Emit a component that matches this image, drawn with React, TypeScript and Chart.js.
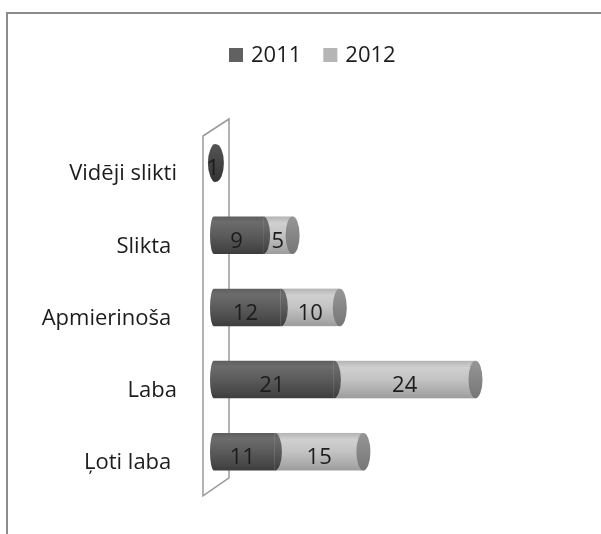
import { useEffect, useRef } from "react";
import { Chart, registerables } from "chart.js";

Chart.register(...registerables);

const categories = ["Vidēji slikti", "Slikta ", "Apmierinoša ", "Laba", "Ļoti laba "];
const seriesLabels = ["2011", "2012"];
const values2011 = [1, 9, 12, 21, 11];
const values2012 = [0, 5, 10, 24, 15];

const FONT = "'Open Sans', 'Noto Sans', sans-serif";
const legendColors = ["#616161", "#b5b5b5"];

function bodyGradient(ctx: CanvasRenderingContext2D, top: number, bottom: number, dark: boolean) {
  const g = ctx.createLinearGradient(0, top, 0, bottom);
  if (dark) {
    g.addColorStop(0, "#5e5e5e");
    g.addColorStop(0.15, "#6c6c6c");
    g.addColorStop(0.5, "#5b5b5b");
    g.addColorStop(0.85, "#474747");
    g.addColorStop(1, "#3c3c3c");
  } else {
    g.addColorStop(0, "#b4b4b4");
    g.addColorStop(0.18, "#d0d0d0");
    g.addColorStop(0.5, "#c3c3c3");
    g.addColorStop(0.85, "#a9a9a9");
    g.addColorStop(1, "#9c9c9c");
  }
  return g;
}

function capGradient(ctx: CanvasRenderingContext2D, top: number, bottom: number, dark: boolean) {
  const g = ctx.createLinearGradient(0, top, 0, bottom);
  if (dark) {
    g.addColorStop(0, "#555555");
    g.addColorStop(1, "#333333");
  } else {
    g.addColorStop(0, "#969696");
    g.addColorStop(1, "#767676");
  }
  return g;
}

const framePlugin = {
  id: "frame",
  beforeDraw(chart: any) {
    const ctx = chart.ctx as CanvasRenderingContext2D;
    ctx.save();
    ctx.fillStyle = "#ffffff";
    ctx.fillRect(0, 0, chart.width, chart.height);
    ctx.strokeStyle = "#8c8c8c";
    ctx.lineWidth = 2;
    ctx.beginPath();
    ctx.moveTo(7, chart.height);
    ctx.lineTo(7, 13);
    ctx.lineTo(chart.width, 13);
    ctx.stroke();
    ctx.restore();
  },
  beforeDatasetsDraw(chart: any) {
    const ctx = chart.ctx as CanvasRenderingContext2D;
    const a = chart.chartArea;
    const lx = a.left - 7;
    const rx = a.left + 19;
    ctx.save();
    ctx.strokeStyle = "#9a9a9a";
    ctx.lineWidth = 1.5;
    ctx.fillStyle = "#ffffff";
    ctx.beginPath();
    ctx.moveTo(lx, a.top + 9);
    ctx.lineTo(rx, a.top - 8);
    ctx.lineTo(rx, a.bottom - 10);
    ctx.lineTo(lx, a.bottom + 8);
    ctx.closePath();
    ctx.fill();
    ctx.stroke();
    ctx.restore();
  },
  afterDatasetsDraw(chart: any) {
    const ctx = chart.ctx as CanvasRenderingContext2D;
    const m0 = chart.getDatasetMeta(0).data;
    const m1 = chart.getDatasetMeta(1).data;
    const v0 = chart.data.datasets[0].data as number[];
    const v1 = chart.data.datasets[1].data as number[];
    const crx = 7;
    ctx.save();
    for (let j = 0; j < m0.length; j++) {
      const b0 = m0[j].getProps(["x", "y", "base", "height"], true);
      const b1 = m1[j].getProps(["x", "y", "base", "height"], true);
      const h = b0.height;
      const top = b0.y - h / 2;
      const bot = b0.y + h / 2;
      const start = b0.base;
      const lr = 4;
      if (v1[j] > 0) {
        ctx.fillStyle = bodyGradient(ctx, top, bot, false);
        ctx.fillRect(b1.base, top, b1.x - b1.base, h);
        ctx.fillStyle = capGradient(ctx, top, bot, false);
        ctx.beginPath();
        ctx.ellipse(b1.x, b1.y, crx, h / 2, 0, 0, Math.PI * 2);
        ctx.fill();
      }
      if (v0[j] > 0) {
        ctx.fillStyle = bodyGradient(ctx, top, bot, true);
        ctx.beginPath();
        ctx.moveTo(start + lr, top);
        ctx.lineTo(b0.x, top);
        ctx.lineTo(b0.x, bot);
        ctx.lineTo(start + lr, bot);
        ctx.ellipse(start + lr, b0.y, lr, h / 2, 0, Math.PI / 2, Math.PI * 1.5);
        ctx.closePath();
        ctx.fill();
        if (v1[j] > 0) {
          ctx.beginPath();
          ctx.ellipse(b0.x, b0.y, crx, h / 2, 0, -Math.PI / 2, Math.PI / 2);
          ctx.fill();
        } else {
          ctx.fillStyle = capGradient(ctx, top, bot, true);
          ctx.beginPath();
          ctx.ellipse(b0.x, b0.y, crx + 1, h / 2, 0, 0, Math.PI * 2);
          ctx.fill();
        }
      }
      ctx.fillStyle = "#1c1c1c";
      ctx.font = `22px ${FONT}`;
      ctx.textAlign = "center";
      ctx.textBaseline = "middle";
      if (v0[j] > 0) ctx.fillText(String(v0[j]), (b0.base + b0.x) / 2, b0.y + 6);
      if (v1[j] > 0) ctx.fillText(String(v1[j]), (b1.base + b1.x) / 2, b1.y + 6);
    }
    ctx.restore();
  },
  afterDraw(chart: any) {
    const ctx = chart.ctx as CanvasRenderingContext2D;
    ctx.save();
    ctx.font = `22px ${FONT}`;
    ctx.textBaseline = "alphabetic";
    ctx.textAlign = "left";
    let x = 229;
    chart.data.datasets.forEach((ds: any, i: number) => {
      ctx.fillStyle = legendColors[i];
      ctx.fillRect(x, 48, 14, 14);
      x += 22;
      ctx.fillStyle = "#1c1c1c";
      ctx.fillText(ds.label, x, 62);
      x += ctx.measureText(ds.label).width + 22;
    });
    ctx.restore();
  },
};

export default function App() {
  const ref = useRef<HTMLCanvasElement | null>(null);
  useEffect(() => {
    if (!ref.current) return;
    const chart = new Chart(ref.current, {
      type: "bar",
      data: {
        labels: categories,
        datasets: [
          { label: seriesLabels[0], data: values2011, backgroundColor: "rgba(0,0,0,0)" },
          { label: seriesLabels[1], data: values2012, backgroundColor: "rgba(0,0,0,0)" },
        ],
      },
      options: {
        indexAxis: "y",
        responsive: false,
        animation: false,
        devicePixelRatio: 1,
        datasets: { bar: { categoryPercentage: 1, barPercentage: 0.52 } },
        layout: { padding: { top: 127, bottom: 40, left: 0, right: 37 } },
        plugins: { legend: { display: false }, tooltip: { enabled: false } },
        scales: {
          x: { display: false, stacked: true, min: 0, max: 60 },
          y: {
            stacked: true,
            grid: { display: false, drawTicks: false },
            border: { display: false },
            afterFit: (s: any) => {
              s.width = 210;
            },
            ticks: {
              padding: 33,
              labelOffset: 11,
              color: "#1c1c1c",
              font: { family: FONT, size: 22 },
            },
          },
        },
      },
      plugins: [framePlugin],
    } as any);
    return () => chart.destroy();
  }, []);
  return (
    <div style={{ position: "absolute", left: 0, top: 0, width: 601, height: 534 }}>
      <canvas ref={ref} width={601} height={534} />
    </div>
  );
}
